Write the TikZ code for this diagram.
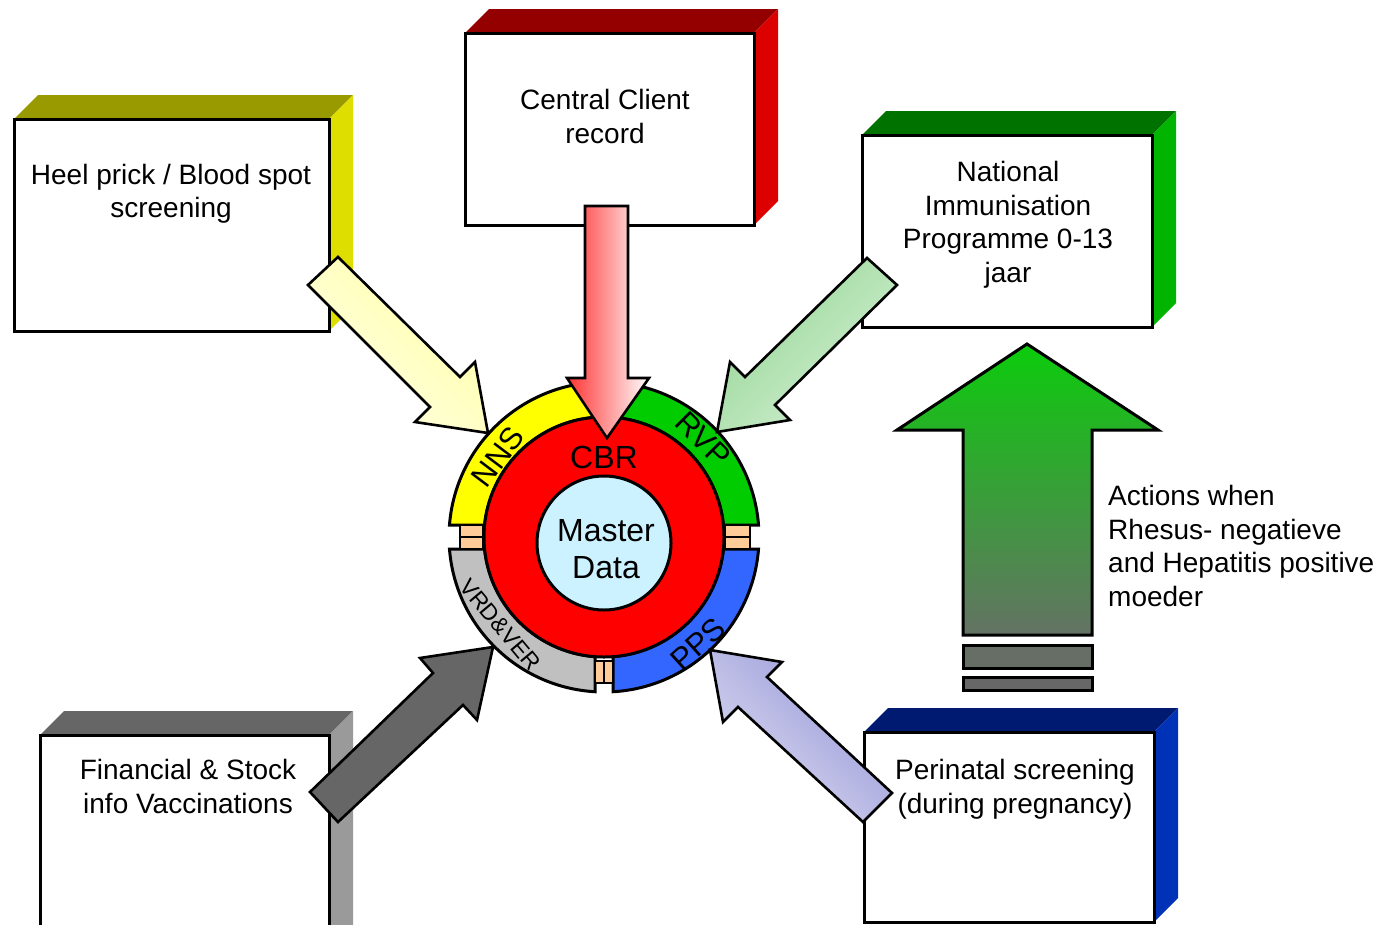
\documentclass[tikz,border=0pt]{standalone}
\usepackage{fontspec}
\setmainfont{Liberation Sans}
\definecolor{oliveTop}{HTML}{999900}
\definecolor{oliveSide}{HTML}{DEDE00}
\definecolor{redTop}{HTML}{940000}
\definecolor{redSide}{HTML}{DC0000}
\definecolor{greenTop}{HTML}{007200}
\definecolor{greenSide}{HTML}{00B400}
\definecolor{greyTop}{HTML}{666666}
\definecolor{greySide}{HTML}{9A9A9A}
\definecolor{navyTop}{HTML}{001A72}
\definecolor{navySide}{HTML}{0032B8}
\definecolor{segYellow}{HTML}{FFFF00}
\definecolor{segGreen}{HTML}{00CC00}
\definecolor{segBlue}{HTML}{3366FF}
\definecolor{segGrey}{HTML}{C0C0C0}
\definecolor{cbrRed}{HTML}{FF0000}
\definecolor{masterBlue}{HTML}{CCF2FF}
\definecolor{peach}{HTML}{FFCC99}
\definecolor{darkArrow}{HTML}{666666}
\definecolor{paleYellowA}{HTML}{FFFFA6}
\definecolor{paleYellowB}{HTML}{FFFFE6}
\definecolor{paleGreenA}{HTML}{94D694}
\definecolor{paleGreenB}{HTML}{D6F0D6}
\definecolor{paleBlueA}{HTML}{9696D8}
\definecolor{paleBlueM}{HTML}{A4A4E0}
\definecolor{paleBlueB}{HTML}{DCDCF2}

% a slab: front face plus a top and a right face seen in depth
% #1 name, #2 left, #3 top, #4 right, #5 bottom (page coordinates, y downwards)
% #6 top face colour, #7 side face colour
\newcommand\slabbox[7]{%
  \fill[#6] ({#2},{-#3}) -- ({#2+24},{-#3+24}) -- ({#4+24},{-#3+24}) -- ({#4},{-#3}) -- cycle;
  \fill[#7] ({#4},{-#3}) -- ({#4+24},{-#3+24}) -- ({#4+24},{-#5+24}) -- ({#4},{-#5}) -- cycle;
  \node[frontface, minimum width={#4-#2}, minimum height={#5-#3}] (#1) at ({#2},{-#3}) {};
}

\begin{document}
\begin{tikzpicture}[x=1pt,y=1pt,
  frontface/.style={draw=black, line width=3pt, fill=white, inner sep=0pt, outer sep=0pt, anchor=north west},
  boxtext/.style={font=\fontsize{28}{33.5}\selectfont, align=center, inner sep=0pt},
  blockarrow/.style={draw=black, line width=2.6pt, line join=miter},
  ringpart/.style={draw=black, line width=3pt, line join=miter},
  ringlabel/.style={font=\fontsize{31}{32}\selectfont, inner sep=0pt},
  joint/.style={draw=black, line width=1.6pt, fill=peach},
  bar/.style={draw=black, line width=3pt},
]
\clip (0,0) rectangle (1383,-924);

% ---------- the five source systems ----------
\slabbox{heel}{14}{119}{329}{331}{oliveTop}{oliveSide}
\slabbox{ccr}{465}{33}{754}{225}{redTop}{redSide}
\slabbox{nip}{862}{135}{1152}{327}{greenTop}{greenSide}
\slabbox{fin}{40}{735}{329}{970}{greyTop}{greySide}
\slabbox{pns}{864}{732}{1154}{922}{navyTop}{navySide}

\node[boxtext] (heeltxt) at (171,-194) {Heel prick / Blood spot\\screening};
\node[boxtext] (ccrtxt) at (605,-116.5) {Central Client\\record};
\node[boxtext] (niptxt) at (1008,-225) {National\\Immunisation\\Programme 0-13\\jaar};
\node[boxtext] (fintxt) at (188,-786.5) {Financial \& Stock\\info Vaccinations};
\node[boxtext] (pnstxt) at (1015,-789) {Perinatal screening\\(during pregnancy)};

% ---------- the central ring ----------
\begin{scope}[shift={(604,-537)}]
  \path[ringpart, fill=segYellow] (175.56:155) arc[start angle=175.56, end angle=93.33, radius=155]
      -- (94.30:120) arc[start angle=94.30, end angle=174.26, radius=120] -- cycle;
  \path[ringpart, fill=segGreen] (86.67:155) arc[start angle=86.67, end angle=4.44, radius=155]
      -- (5.74:120) arc[start angle=5.74, end angle=85.70, radius=120] -- cycle;
  \path[ringpart, fill=segBlue] (-4.44:155) arc[start angle=-4.44, end angle=-86.67, radius=155]
      -- (-85.70:120) arc[start angle=-85.70, end angle=-5.74, radius=120] -- cycle;
  \path[ringpart, fill=segGrey] (-93.33:155) arc[start angle=-93.33, end angle=-175.56, radius=155]
      -- (-174.26:120) arc[start angle=-174.26, end angle=-94.30, radius=120] -- cycle;

  % small joints between the segments
  \path[joint] (-144,12) rectangle (-121,0);
  \path[joint] (-144,0) rectangle (-121,-12);
  \path[joint] (121,12) rectangle (146,0);
  \path[joint] (121,0) rectangle (146,-12);
  \path[joint] (-9,-124) rectangle (0,-146);
  \path[joint] (0,-124) rectangle (9,-146);

  \node[circle, draw=black, line width=3pt, fill=cbrRed, minimum size=240pt, inner sep=0pt] (cbr) at (0,0) {};
  \node[circle, draw=black, line width=3pt, fill=masterBlue, minimum size=134pt, inner sep=0pt] (master) at (0,-6) {};
  \node[font=\fontsize{32}{37}\selectfont, align=center, inner sep=0pt] (mastertxt) at (2,-12) {Master\\Data};
  \node[font=\fontsize{32}{32}\selectfont, inner sep=0pt, anchor=base] (cbrtxt) at (0,69) {CBR};

  \node[ringlabel, rotate=53] (nns) at (-106,80) {NNS};
  \node[ringlabel, rotate=-45] (rvp) at (99,98) {RVP};
  \node[ringlabel, rotate=42] (pps) at (94,-107) {PPS};
  \node[font=\fontsize{23}{24}\selectfont, inner sep=0pt, rotate=-50] (vrd) at (-104,-88) {VRD\&VER};
\end{scope}

% ---------- block arrows into the ring ----------
\path[blockarrow, top color=paleYellowA, bottom color=paleYellowB, shading angle=-45]
  (308,-285) -- (338,-257) -- (460,-377) -- (475,-362) -- (488,-433) -- (415,-422) -- (430,-407) -- cycle;
\path[blockarrow, top color=red!80, bottom color=white, shading angle=90]
  (585,-206) -- (628,-206) -- (628,-378) -- (649,-378) -- (607,-438) -- (567,-378) -- (585,-378) -- cycle;
\path[blockarrow, top color=paleGreenA, bottom color=paleGreenB, shading angle=45]
  (867,-258) -- (897,-285) -- (775,-405) -- (790,-420) -- (717,-432) -- (730,-362) -- (745,-377) -- cycle;
\path[blockarrow, fill=darkArrow]
  (310,-792) -- (433,-673) -- (420,-658) -- (493,-647) -- (477,-720) -- (463,-705) -- (338,-822) -- cycle;
\path[blockarrow, top color=paleBlueA, middle color=paleBlueM, bottom color=paleBlueB, shading angle=-45]
  (710,-650) -- (782,-662) -- (767,-677) -- (892,-793) -- (863,-822) -- (738,-707) -- (723,-722) -- cycle;

% ---------- the big upward arrow ----------
\path[blockarrow, line width=3pt, top color={rgb,255:red,12;green,204;blue,12}, bottom color={rgb,255:red,100;green,114;blue,100}]
  (963,-635) -- (963,-430) -- (897,-430) -- (1027,-344) -- (1158,-430) -- (1092,-430) -- (1092,-635) -- cycle;
\path[bar, fill={rgb,255:red,102;green,110;blue,102}] (963,-645) rectangle (1092,-668);
\path[bar, fill={rgb,255:red,103;green,103;blue,103}] (963,-677) rectangle (1092,-690);

\node[font=\fontsize{28}{33.4}\selectfont, align=left, inner sep=0pt, anchor=west] (actions) at (1108,-546)
  {Actions when\\Rhesus- negatieve\\and Hepatitis positive\\moeder};
\end{tikzpicture}
\end{document}
